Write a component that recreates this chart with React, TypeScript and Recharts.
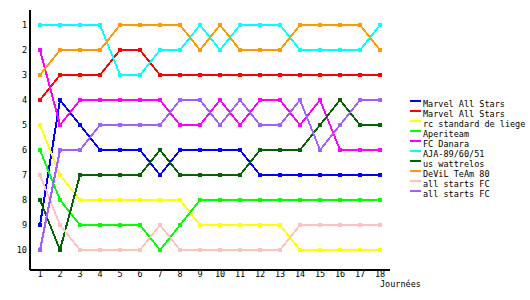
import { LineChart, Line, XAxis, YAxis } from 'recharts';

const journees = [1, 2, 3, 4, 5, 6, 7, 8, 9, 10, 11, 12, 13, 14, 15, 16, 17, 18];
const rangs = [1, 2, 3, 4, 5, 6, 7, 8, 9, 10];

const marvelAllStars1 = [9, 4, 5, 6, 6, 6, 7, 6, 6, 6, 6, 7, 7, 7, 7, 7, 7, 7];
const marvelAllStars2 = [4, 3, 3, 3, 2, 2, 3, 3, 3, 3, 3, 3, 3, 3, 3, 3, 3, 3];
const rcStandard = [5, 7, 8, 8, 8, 8, 8, 8, 9, 9, 9, 9, 9, 10, 10, 10, 10, 10];
const aperiteam = [6, 8, 9, 9, 9, 9, 10, 9, 8, 8, 8, 8, 8, 8, 8, 8, 8, 8];
const fcDanara = [2, 5, 4, 4, 4, 4, 4, 5, 5, 4, 5, 4, 4, 5, 4, 6, 6, 6];
const aja = [1, 1, 1, 1, 3, 3, 2, 2, 1, 2, 1, 1, 1, 2, 2, 2, 2, 1];
const usWattrelos = [8, 10, 7, 7, 7, 7, 6, 7, 7, 7, 7, 6, 6, 6, 5, 4, 5, 5];
const devilTeam = [3, 2, 2, 2, 1, 1, 1, 1, 2, 1, 2, 2, 2, 1, 1, 1, 1, 2];
const allStarts1 = [7, 9, 10, 10, 10, 10, 9, 10, 10, 10, 10, 10, 10, 9, 9, 9, 9, 9];
const allStarts2 = [10, 6, 6, 5, 5, 5, 5, 4, 4, 5, 4, 5, 5, 4, 6, 5, 4, 4];

const equipes = [
  { key: 's0', name: 'Marvel All Stars', color: '#0000ff', values: marvelAllStars1 },
  { key: 's1', name: 'Marvel All Stars', color: '#ff0000', values: marvelAllStars2 },
  { key: 's2', name: 'rc standard de liege', color: '#ffff00', values: rcStandard },
  { key: 's3', name: 'Aperiteam', color: '#00ff00', values: aperiteam },
  { key: 's4', name: 'FC Danara', color: '#ff00ff', values: fcDanara },
  { key: 's5', name: 'AJA-89/60/51', color: '#00ffff', values: aja },
  { key: 's6', name: 'us wattrelos', color: '#006400', values: usWattrelos },
  { key: 's7', name: 'DeViL TeAm 80', color: '#ff9900', values: devilTeam },
  { key: 's8', name: 'all starts FC', color: '#ffc0c0', values: allStarts1 },
  { key: 's9', name: 'all starts FC', color: '#a060ff', values: allStarts2 },
];

const data = journees.map((j, i) => {
  const row: Record<string, number> = { j };
  equipes.forEach((e) => {
    row[e.key] = e.values[i];
  });
  return row;
});

const font = '"DejaVu Sans Mono", monospace';

const SquareDot = (color: string) => (props: any) => {
  const { cx, cy, index } = props;
  if (cx == null || cy == null) return <g key={index} />;
  return <rect key={index} x={cx - 2} y={cy - 2} width={4} height={4} fill={color} />;
};

export default function App() {
  return (
    <div
      style={{
        position: 'absolute',
        left: 0,
        top: 0,
        width: 530,
        height: 300,
        background: '#fff',
        shapeRendering: 'crispEdges',
      }}
    >
      <LineChart width={530} height={300} data={data} margin={{ top: 10, right: 140, bottom: 0, left: 0 }}>
        <XAxis
          dataKey="j"
          type="number"
          domain={[0.5, 18.5]}
          ticks={journees}
          interval={0}
          axisLine={{ stroke: '#000', strokeWidth: 2 }}
          tickLine={false}
          tickSize={0}
          tickMargin={1}
          height={30}
          tick={{ fill: '#000', fontSize: 8.5, fontFamily: font }}
        />
        <YAxis
          type="number"
          reversed
          domain={[0.4, 10.8]}
          ticks={rangs}
          interval={0}
          width={30}
          axisLine={{ stroke: '#000', strokeWidth: 2 }}
          tickLine={false}
          tickSize={0}
          tickMargin={3}
          tick={{ fill: '#000', fontSize: 8.5, fontFamily: font }}
        />
        {equipes.map((e) => (
          <Line
            key={e.key}
            dataKey={e.key}
            name={e.name}
            type="linear"
            stroke={e.color}
            strokeWidth={2}
            dot={SquareDot(e.color)}
            activeDot={false}
            isAnimationActive={false}
          />
        ))}
      </LineChart>
      <div
        style={{
          position: 'absolute',
          left: 380,
          top: 279,
          fontFamily: font,
          fontSize: 8.5,
          lineHeight: '10px',
          color: '#000',
        }}
      >
        Journées
      </div>
      <div style={{ position: 'absolute', left: 410, top: 99, fontFamily: font, fontSize: 8.5, color: '#000' }}>
        {equipes.map((e) => (
          <div key={e.key} style={{ position: 'relative', height: 10, lineHeight: '10px', whiteSpace: 'nowrap' }}>
            <span
              style={{ position: 'absolute', left: 0, top: 1, width: 11, height: 2, background: e.color }}
            />
            <span style={{ position: 'absolute', left: 13, top: 0 }}>{e.name}</span>
          </div>
        ))}
      </div>
    </div>
  );
}
